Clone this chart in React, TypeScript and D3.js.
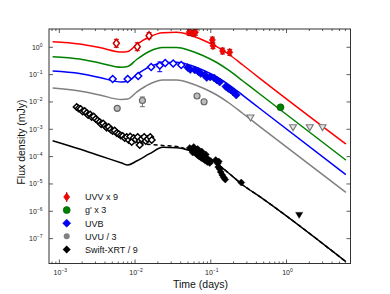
import React, { useEffect, useRef } from "react";
import * as d3 from "d3";

const W = 390;
const H = 294;

// model light curves: [time (days), flux (mJy)]
const modelUVV = [[8.15e-4, 1.6], [1.85e-3, 1.32], [3.41e-3, 0.98], [6.65e-3, 0.67], [8.0e-3, 0.7], [0.0105, 1.27], [0.0156, 2.44], [0.0232, 3.42], [0.0355, 3.54], [0.0527, 2.82], [0.0784, 1.85], [0.12, 1.05], [0.178, 0.523], [0.265, 0.225], [0.444, 0.0734], [6.08, 2.9e-4]];
const modelG = [[8.15e-4, 0.453], [1.85e-3, 0.373], [3.41e-3, 0.267], [6.65e-3, 0.187], [8.0e-3, 0.198], [0.0105, 0.358], [0.0156, 0.72], [0.0232, 0.983], [0.0355, 0.983], [0.0527, 0.764], [0.0784, 0.501], [0.12, 0.278], [0.178, 0.136], [0.265, 0.0585], [0.444, 0.0196], [6.08, 7.5e-5]];
const modelUVB = [[8.15e-4, 0.136], [1.85e-3, 0.11], [3.41e-3, 0.0785], [6.65e-3, 0.0537], [8.0e-3, 0.057], [0.0105, 0.101], [0.0156, 0.195], [0.0232, 0.273], [0.0355, 0.283], [0.0527, 0.225], [0.0784, 0.148], [0.12, 0.0819], [0.178, 0.0407], [0.265, 0.0175], [0.444, 5.77e-3], [6.08, 2.18e-5]];
const modelUVU = [[8.15e-4, 0.0324], [1.85e-3, 0.0252], [3.41e-3, 0.018], [6.65e-3, 0.0123], [8.0e-3, 0.0128], [0.0105, 0.0231], [0.0156, 0.0454], [0.0232, 0.0635], [0.0355, 0.0635], [0.0527, 0.0494], [0.0784, 0.0324], [0.12, 0.018], [0.178, 8.79e-3], [0.265, 3.78e-3], [0.444, 1.26e-3], [6.08, 4.95e-6]];
const modelXRT = [[8.15e-4, 3.83e-4], [1.85e-3, 1.9e-4], [3.41e-3, 1.08e-4], [6.65e-3, 5.85e-5], [8.0e-3, 4.93e-5], [0.0105, 6.92e-5], [0.0156, 1.28e-4], [0.0232, 2.19e-4], [0.0355, 2.12e-4], [0.0527, 1.67e-4], [0.0784, 1.05e-4], [0.12, 5.6e-5], [0.178, 2.31e-5], [0.265, 9.16e-6], [0.444, 3.42e-6], [6.08, 1.43e-8]];
const modelXRTdash = [[0.0115, 3.02e-4], [0.0232, 2.55e-4], [0.0355, 2.35e-4], [0.0527, 1.67e-4], [0.0784, 1.05e-4], [0.12, 5.6e-5], [0.178, 2.31e-5], [0.265, 9.16e-6], [0.444, 3.42e-6], [6.08, 1.43e-8]];

// data: [t, flux, low, high]
const uvvOpen = [[5.66e-3, 1.4, 1.0, 1.96], [0.0107, 1.05, 0.75, 1.47], [0.0153, 2.66, 2.06, 3.42]];
const uvvFilled = [[0.0517, 3.54, 2.75, 4.5], [0.0584, 3.25, 2.55, 4.1], [0.0627, 3.54, 2.75, 4.5], [0.105, 1.85, 1.45, 2.35], [0.107, 1.14, 0.89, 1.45], [0.143, 0.732, 0.57, 0.93], [0.178, 0.656, 0.51, 0.84]];
const gBand = [[0.833, 6.38e-3]];
const uvbOpen = [[5.06e-3, 0.0692], [7.99e-3, 0.0692], [0.011, 0.0891], [0.0163, 0.19], [0.0212, 0.216, 0.128, 0.29], [0.025, 0.266], [0.0319, 0.255], [0.0407, 0.225]];
const uvbFilled = [[0.0496, 0.182], [0.0535, 0.154], [0.0614, 0.148], [0.0683, 0.13], [0.0737, 0.11], [0.0832, 0.097], [0.0885, 0.0785], [0.0984, 0.0819], [0.111, 0.0753], [0.12, 0.0636], [0.131, 0.0537], [0.158, 0.0368], [0.17, 0.0311], [0.184, 0.0274], [0.198, 0.0231], [0.217, 0.018]];
const uvu = [[5.81e-3, 5.86e-3], [0.0125, 0.0113, 6.71e-3, 0.0152], [0.0658, 0.0165], [0.0815, 0.0102]];
const uvuLimits = [[0.334, 2.66e-3], [1.22, 1.18e-3], [2.03, 1.18e-3], [2.99, 1.18e-3]];
const xrtOpen = [[1.692e-3, 6.54e-3], [1.799e-3, 5.76e-3], [1.912e-3, 5.53e-3], [2.032e-3, 4.48e-3], [2.159e-3, 4.67e-3], [2.295e-3, 3.94e-3], [2.402e-3, 3.33e-3], [2.553e-3, 3.48e-3], [2.672e-3, 2.82e-3], [2.84e-3, 2.94e-3], [3.018e-3, 2.38e-3], [3.207e-3, 2.1e-3], [3.409e-3, 1.85e-3], [3.568e-3, 1.56e-3], [3.791e-3, 1.63e-3], [4.029e-3, 1.32e-3], [4.217e-3, 1.16e-3], [4.483e-3, 1.21e-3], [4.763e-3, 9.82e-4], [5.062e-3, 8.66e-4], [5.379e-3, 9.03e-4], [5.716e-3, 7.31e-4], [6.076e-3, 6.72e-4], [6.456e-3, 5.93e-4], [6.862e-3, 5.68e-4], [7.295e-3, 4.8e-4], [7.751e-3, 5.22e-4], [8.236e-3, 4.06e-4], [8.621e-3, 5.45e-4], [9.027e-3, 3.43e-4], [9.592e-3, 4.8e-4], [0.01019, 4.23e-4], [0.01083, 5.22e-4], [0.01151, 3.73e-4], [0.01151, 2.66e-4], [0.01224, 4.41e-4], [0.0132, 5.22e-4], [0.01382, 3.73e-4], [0.01469, 4.41e-4], [0.01585, 5.22e-4], [0.01659, 4.06e-4]];
const xrtFilled = [[0.05271, 2.07e-4], [0.05602, 1.75e-4], [0.05775, 1.41e-4], [0.05954, 2.25e-4], [0.06138, 1.82e-4], [0.06232, 1.36e-4], [0.06524, 1.61e-4], [0.06624, 1.15e-4], [0.06726, 1.9e-4], [0.06933, 1.41e-4], [0.07039, 1.01e-4], [0.07368, 1.25e-4], [0.07481, 8.9e-5], [0.07596, 1.54e-4], [0.0783, 1.1e-4], [0.0795, 8.18e-5], [0.08323, 9.68e-5], [0.0845, 7.21e-5], [0.08579, 1.2e-4], [0.08844, 8.9e-5], [0.0898, 6.35e-5], [0.09397, 7.52e-5], [0.09687, 5.84e-5], [0.09988, 6.91e-5], [0.1163, 7.52e-5], [0.1236, 5.6e-5], [0.1274, 6.63e-5], [0.1255, 4.17e-5], [0.1314, 3.52e-5], [0.1354, 2.74e-5], [0.1417, 2.13e-5], [0.1483, 1.72e-5], [0.1552, 1.45e-5], [0.2527, 1.13e-5]];
const xrtLimits = [[1.47, 7.31e-7]];

const legendLabels = ["UVV x 9", "g' x 3", "UVB", "UVU / 3", "Swift-XRT / 9"];
const xTickExp = [-3, -2, -1, 0];
const yTickExp = [0, -1, -2, -3, -4, -5, -6, -7];

const FONT = "'Liberation Sans', Arial, sans-serif";

const diamond = (rx: number, ry: number) => `M0,${-ry}L${rx},0L0,${ry}L${-rx},0Z`;
const triDown = (r: number) => `M${-r},${-r * 0.75}L${r},${-r * 0.75}L0,${r * 0.95}Z`;

export default function App() {
  const svgRef = useRef<SVGSVGElement>(null);

  useEffect(() => {
    const svg = d3.select(svgRef.current);
    svg.selectAll("*").remove();

    const m = { left: 49, right: 350.5, top: 29, bottom: 263.5 };
    const x = d3.scaleLog().domain([7.3e-4, 7]).range([m.left, m.right]);
    const y = d3.scaleLog().domain([1.23e-8, 4.67]).range([m.bottom, m.top]);

    svg.append("clipPath").attr("id", "plotArea")
      .append("rect")
      .attr("x", m.left).attr("y", m.top)
      .attr("width", m.right - m.left).attr("height", m.bottom - m.top);

    const g = svg.append("g").attr("clip-path", "url(#plotArea)");

    const line = d3.line<number[]>()
      .x((d) => x(d[0]))
      .y((d) => y(d[1]))
      .curve(d3.curveMonotoneX);

    const curves: [number[][], string][] = [
      [modelUVV, "#ff0000"],
      [modelG, "#008000"],
      [modelUVB, "#0000ff"],
      [modelUVU, "#808080"],
      [modelXRT, "#000000"],
    ];
    curves.forEach(([data, color]) => {
      g.append("path").datum(data)
        .attr("fill", "none").attr("stroke", color).attr("stroke-width", 1.5)
        .attr("d", line);
    });
    g.append("path").datum(modelXRTdash)
      .attr("fill", "none").attr("stroke", "#000").attr("stroke-width", 1.5)
      .attr("stroke-dasharray", "4,3")
      .attr("d", line);

    // error bars
    const errBars = (data: number[][], color: string) => {
      g.selectAll(null).data(data.filter((d) => d.length > 2)).join("line")
        .attr("x1", (d) => x(d[0])).attr("x2", (d) => x(d[0]))
        .attr("y1", (d) => y(d[2])).attr("y2", (d) => y(d[3]))
        .attr("stroke", color).attr("stroke-width", 1);
      g.selectAll(null).data(data.filter((d) => d.length > 2)).join("path")
        .attr("d", (d) => `M${x(d[0]) - 2.5},${y(d[2])}H${x(d[0]) + 2.5}M${x(d[0]) - 2.5},${y(d[3])}H${x(d[0]) + 2.5}`)
        .attr("stroke", color).attr("stroke-width", 1);
    };

    const marks = (data: number[][], shape: string, fill: string, stroke: string, sw: number) => {
      g.selectAll(null).data(data).join("path")
        .attr("transform", (d) => `translate(${x(d[0])},${y(d[1])})`)
        .attr("d", shape)
        .attr("fill", fill).attr("stroke", stroke).attr("stroke-width", sw);
    };

    // X-ray
    marks(xrtOpen, diamond(3.3, 3.3), "#fff", "#000", 1.5);
    marks(xrtFilled, diamond(3.5, 3.5), "#000", "#000", 0.5);
    marks(xrtLimits, triDown(3.5), "#000", "#000", 0.5);

    // UVU
    errBars(uvu, "#707070");
    g.selectAll(null).data(uvu).join("circle")
      .attr("cx", (d) => x(d[0])).attr("cy", (d) => y(d[1])).attr("r", 3)
      .attr("fill", "#bdbdbd").attr("stroke", "#666").attr("stroke-width", 1.2);
    marks(uvuLimits, triDown(3.5), "#e6e6e6", "#777", 1.1);

    // UVB
    errBars(uvbOpen, "#0000ff");
    marks(uvbOpen, diamond(3.5, 3.5), "#fff", "#0000ff", 1.5);
    marks(uvbFilled, diamond(4, 4), "#0000ff", "#0000aa", 0.6);

    // g'
    g.selectAll(null).data(gBand).join("circle")
      .attr("cx", (d) => x(d[0])).attr("cy", (d) => y(d[1])).attr("r", 3.5)
      .attr("fill", "#008000").attr("stroke", "#005000").attr("stroke-width", 0.6);

    // UVV
    errBars(uvvOpen, "#cc0000");
    errBars(uvvFilled, "#cc0000");
    marks(uvvOpen, diamond(3, 4), "#fff", "#cc0000", 1.5);
    marks(uvvFilled, diamond(3, 4), "#ff0000", "#aa0000", 0.6);

    // frame
    svg.append("rect")
      .attr("x", m.left).attr("y", m.top)
      .attr("width", m.right - m.left).attr("height", m.bottom - m.top)
      .attr("fill", "none").attr("stroke", "#333").attr("stroke-width", 1);

    // x ticks (bottom + top, inward)
    x.ticks().forEach((t) => {
      const major = Math.abs(Math.log10(t) - Math.round(Math.log10(t))) < 1e-6;
      const len = major ? 4 : 2;
      const px = x(t);
      svg.append("line").attr("x1", px).attr("x2", px)
        .attr("y1", m.bottom).attr("y2", m.bottom - len)
        .attr("stroke", "#333").attr("stroke-width", 0.8);
      svg.append("line").attr("x1", px).attr("x2", px)
        .attr("y1", m.top).attr("y2", m.top + len)
        .attr("stroke", "#333").attr("stroke-width", 0.8);
    });
    yTickExp.forEach((e) => {
      const py = y(Math.pow(10, e));
      svg.append("line").attr("x1", m.left).attr("x2", m.left + 4)
        .attr("y1", py).attr("y2", py).attr("stroke", "#333").attr("stroke-width", 0.8);
      svg.append("line").attr("x1", m.right).attr("x2", m.right - 4)
        .attr("y1", py).attr("y2", py).attr("stroke", "#333").attr("stroke-width", 0.8);
    });

    // tick labels
    xTickExp.forEach((e) => {
      const t = svg.append("text")
        .attr("x", x(Math.pow(10, e)) + 1).attr("y", 275)
        .attr("text-anchor", "middle")
        .attr("font-family", FONT).attr("font-size", 7).attr("fill", "#222");
      t.append("tspan").text("10");
      t.append("tspan").attr("dy", -3).attr("font-size", 5).text(String(e).replace("-", "\u2212"));
    });
    yTickExp.forEach((e) => {
      const t = svg.append("text")
        .attr("x", 42.5).attr("y", y(Math.pow(10, e)) + 2.5)
        .attr("text-anchor", "end")
        .attr("font-family", FONT).attr("font-size", 7).attr("fill", "#222");
      t.append("tspan").text("10");
      t.append("tspan").attr("dy", -3).attr("font-size", 5).text(String(e).replace("-", "\u2212"));
    });

    // axis titles
    svg.append("text")
      .attr("x", 200.5).attr("y", 288)
      .attr("text-anchor", "middle")
      .attr("font-family", FONT).attr("font-size", 10.5).attr("fill", "#111")
      .text("Time (days)");
    svg.append("text")
      .attr("transform", "translate(25,142) rotate(-90)")
      .attr("text-anchor", "middle")
      .attr("font-family", FONT).attr("font-size", 10.5).attr("fill", "#111")
      .text("Flux density (mJy)");

    // legend
    const lx = 66.7;
    const ly0 = 197;
    const step = 13.1;
    const lg = svg.append("g");
    legendLabels.forEach((label, i) => {
      const cy = ly0 + i * step;
      const item = lg.append("g").attr("transform", `translate(${lx},${cy})`);
      if (i === 0) {
        item.append("line").attr("y1", -5).attr("y2", 5).attr("stroke", "#cc0000").attr("stroke-width", 1);
        item.append("path").attr("d", diamond(3, 4)).attr("fill", "#ff0000").attr("stroke", "#aa0000").attr("stroke-width", 0.6);
      } else if (i === 1) {
        item.append("circle").attr("r", 3.5).attr("fill", "#008000").attr("stroke", "#005000").attr("stroke-width", 0.6);
      } else if (i === 2) {
        item.append("path").attr("d", diamond(4, 4)).attr("fill", "#0000ff").attr("stroke", "#0000aa").attr("stroke-width", 0.6);
      } else if (i === 3) {
        item.append("circle").attr("r", 3).attr("fill", "#808080");
      } else {
        item.append("path").attr("d", diamond(4, 4)).attr("fill", "#000");
      }
      lg.append("text")
        .attr("x", 85).attr("y", cy + 3.3)
        .attr("font-family", FONT).attr("font-size", 9).attr("fill", "#111")
        .text(label);
    });
  }, []);

  return (
    <svg
      ref={svgRef}
      width={W}
      height={H}
      style={{ position: "absolute", left: 0, top: 0, background: "#fff" }}
    />
  );
}
